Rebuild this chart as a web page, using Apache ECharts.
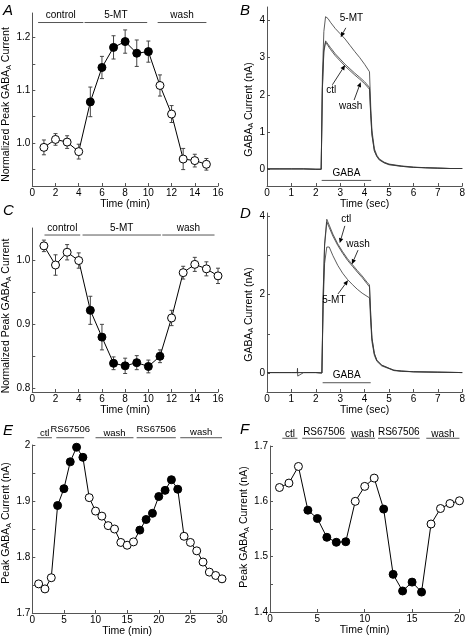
<!DOCTYPE html>
<html><head><meta charset="utf-8">
<script src="https://cdn.jsdelivr.net/npm/echarts@6/dist/echarts.min.js"></script>
<style>html,body{margin:0;padding:0;background:#fff}#c{width:468px;height:642px}</style>
</head><body><div id="c"></div>
<script>
// ---------- Panel A ----------
const aTime = [1,2,3,4,5,6,7,8,9,10,11,12,13,14,15];
const aMean = [0.992,1.007,1.002,0.984,1.078,1.143,1.181,1.192,1.170,1.173,1.109,1.055,0.970,0.967,0.960];
const aErr  = [0.014,0.011,0.012,0.014,0.028,0.021,0.022,0.022,0.025,0.020,0.020,0.016,0.020,0.012,0.011];
const aFilled = [0,0,0,0,1,1,1,1,1,1,0,0,0,0,0];
const aYTicks = [0.95,1.0,1.05,1.1,1.15,1.2];
const aYLabels = [1.0,1.1,1.2];
const aBars = [[0.5,4.4,'control'],[4.5,9.9,'5-MT'],[10.8,15.0,'wash']];
const aBarsY = 1.228;

// ---------- Panel B ----------
const bTime = [0,0.5,1,1.5,2,2.22,2.27,2.33,2.4,2.5,2.6,2.8,3.0,3.2,3.4,3.6,3.8,4.0,4.2,4.25,4.3,4.4,4.5,4.6,4.8,5.0,5.5,6,6.5,7,7.5,8];
const bMT   = [0.01,0.01,0.01,0.01,0.0,0.0,2.5,3.7,4.1,4.05,3.95,3.78,3.64,3.5,3.33,3.16,3.0,2.82,2.62,1.7,1.05,0.55,0.38,0.28,0.19,0.14,0.09,0.06,0.04,0.03,0.02,0.02];
const bCtl  = [0.01,0.01,0.01,0.01,0.0,0.0,2.2,3.2,3.45,3.36,3.27,3.1,2.96,2.82,2.7,2.58,2.47,2.35,2.2,1.5,0.95,0.5,0.35,0.26,0.18,0.13,0.08,0.05,0.04,0.03,0.02,0.02];
const bWash = [0.01,0.01,0.01,0.01,0.0,0.0,2.15,3.15,3.41,3.32,3.22,3.05,2.91,2.77,2.65,2.53,2.42,2.3,2.15,1.45,0.92,0.49,0.34,0.25,0.17,0.12,0.08,0.05,0.04,0.03,0.02,0.02];
const bYTicks = [0,1,2,3,4];
const bGaba = [[2.24,4.27,'GABA']];
const bGabaY = -0.3;
// [labelX, labelY, text, fromX, fromY, toX, toY]
const bNotes = [[3.46,4.07,'5-MT',3.23,3.80,3.02,3.55],[2.63,2.12,'ctl',2.68,2.27,3.2,2.80],[3.43,1.70,'wash',3.57,1.86,3.84,2.34]];

// ---------- Panel C ----------
const cTime = [1,2,3,4,5,6,7,8,9,10,11,12,13,14,15,16];
const cMean = [1.023,0.993,1.013,1.000,0.922,0.880,0.839,0.835,0.840,0.834,0.850,0.910,0.981,0.994,0.987,0.976];
const cErr  = [0.009,0.016,0.012,0.012,0.022,0.020,0.010,0.012,0.011,0.010,0.010,0.012,0.010,0.011,0.011,0.012];
const cFilled = [0,0,0,0,1,1,1,1,1,1,1,0,0,0,0,0];
const cYTicks = [0.8,0.85,0.9,0.95,1.0];
const cYLabels = [0.8,0.9,1.0];
const cBars = [[1.05,4.13,'control'],[4.33,11.08,'5-MT'],[11.2,15.7,'wash']];
const cBarsY = 1.040;

// ---------- Panel D ----------
const dTime = [0,0.5,1,1.24,1.25,1.26,1.5,2,2.25,2.3,2.36,2.45,2.55,2.7,2.9,3.1,3.3,3.5,3.7,3.9,4.1,4.2,4.25,4.3,4.4,4.5,4.7,5.0,5.2,5.5,6,7,8];
const dCtl  = [0.01,0.01,0.01,0.01,0.12,-0.08,0.01,0.01,0.0,2.0,3.3,3.93,3.78,3.55,3.3,3.1,2.92,2.77,2.62,2.48,2.32,2.25,1.5,0.9,0.5,0.33,0.2,0.12,0.07,0.05,0.03,0.02,0.01];
const dWash = [0.01,0.01,0.01,0.01,0.01,0.01,0.01,0.01,0.0,1.9,3.25,3.86,3.72,3.5,3.26,3.06,2.88,2.73,2.58,2.44,2.28,2.2,1.47,0.88,0.49,0.32,0.2,0.12,0.07,0.05,0.03,0.02,0.01];
const dMT   = [0.01,0.01,0.01,0.01,0.01,0.01,0.01,0.01,0.0,1.7,2.8,3.22,3.22,3.0,2.75,2.55,2.39,2.26,2.14,2.04,1.96,1.92,1.3,0.8,0.45,0.3,0.18,0.11,0.06,0.04,0.03,0.02,0.01];
const dYTicks = [0,1,2,3,4];
const dYLabels = [0,2,4];
const dGaba = [[2.28,4.25,'GABA']];
const dGabaY = -0.25;
const dNotes = [[3.25,3.92,'ctl',3.19,3.76,2.98,3.32],[3.73,3.29,'wash',3.73,3.14,3.48,2.78],[2.74,1.86,'5-MT',2.91,2.02,3.32,2.37]];

// ---------- Panel E ----------
const eTime = [1,2,3,4,5,6,7,8,9,10,11,12,13,14,15,16,17,18,19,20,21,22,23,24,25,26,27,28,29,30];
const eMean = [1.752,1.743,1.763,1.892,1.922,1.970,1.996,1.978,1.906,1.882,1.873,1.856,1.850,1.826,1.821,1.827,1.848,1.867,1.878,1.908,1.919,1.938,1.921,1.837,1.826,1.811,1.791,1.773,1.767,1.761];
const eFilled = [0,0,0,1,1,1,1,1,0,0,0,0,0,0,0,0,1,1,1,1,1,1,1,0,0,0,0,0,0,0];
const eYTicks = [1.7,1.75,1.8,1.85,1.9,1.95,2.0];
const eYLabels = [1.7,1.8,1.9,2.0];
const eBars = [[0.8,3.1,'ctl'],[3.8,8.2,'RS67506'],[10.0,16.0,'wash'],[16.5,22.7,'RS67506'],[23.4,30,'wash']];
const eBarsY = 2.013;

// ---------- Panel F ----------
const fTime = [1,2,3,4,5,6,7,8,9,10,11,12,13,14,15,16,17,18,19,20];
const fMean = [1.625,1.633,1.663,1.584,1.569,1.535,1.526,1.527,1.600,1.627,1.642,1.586,1.468,1.438,1.454,1.436,1.559,1.587,1.596,1.601];
const fFilled = [0,0,0,1,1,1,1,1,0,0,0,1,1,1,1,1,0,0,0,0];
const fYTicks = [1.4,1.45,1.5,1.55,1.6,1.65,1.7];
const fYLabels = [1.4,1.5,1.6,1.7];
const fBars = [[1.3,2.9,'ctl'],[3.4,8.0,'RS67506'],[8.5,11.1,'wash'],[11.4,15.8,'RS67506'],[16.5,20,'wash']];
const fBarsY = 1.714;

// ---------- helpers ----------
const FONT = 'Liberation Sans, Arial, sans-serif';
const AX = '#555';
const chart = echarts.init(document.getElementById('c'), null, {renderer:'canvas'});

function xAxis(idx, min, max, interval, name) {
  return {gridIndex: idx, type:'value', min, max, interval, name, nameLocation:'middle', nameGap: 10,
    nameTextStyle:{fontSize:10.5, fontFamily:FONT, color:'#000'},
    axisLine:{onZero:false, lineStyle:{color:AX, width:1}},
    axisTick:{inside:true, length:3, lineStyle:{color:AX}},
    axisLabel:{fontSize:10, fontFamily:FONT, color:'#000', margin:2},
    splitLine:{show:false}};
}
function yAxis(idx, min, max, ticks, labels, fmt, name, gap, shift) {
  const pad = shift >= 0 ? [0, 2*shift, 0, 0] : [0, 0, 0, -2*shift];
  return {gridIndex: idx, type:'value', min, max, name, nameLocation:'middle', nameGap: gap,
    nameTextStyle:{fontSize:10.5, fontFamily:FONT, color:'#000', padding: pad,
      rich:{s:{fontSize:7, fontFamily:FONT, verticalAlign:'bottom', padding:[5,0,0,0]}}},
    axisLine:{onZero:false, lineStyle:{color:AX, width:1}},
    axisTick:{inside:true, length:3, lineStyle:{color:AX}, customValues: ticks},
    axisLabel:{fontSize:10, fontFamily:FONT, color:'#000', margin:2, customValues: labels, formatter: fmt},
    splitLine:{show:false}};
}
function errSeries(idx, time, mean, err) {
  return {type:'custom', xAxisIndex:idx, yAxisIndex:idx, z:2, silent:true,
    data: time.map((t,i)=>[t, mean[i]-err[i], mean[i]+err[i]]),
    encode:{x:0, y:[1,2]},
    renderItem:(p, api)=>{
      const x = api.value(0);
      const a = api.coord([x, api.value(1)]), b = api.coord([x, api.value(2)]);
      const st = {stroke:'#444', lineWidth:1};
      return {type:'group', children:[
        {type:'line', shape:{x1:a[0],y1:a[1],x2:b[0],y2:b[1]}, style:st},
        {type:'line', shape:{x1:a[0]-2,y1:a[1],x2:a[0]+2,y2:a[1]}, style:st},
        {type:'line', shape:{x1:b[0]-2,y1:b[1],x2:b[0]+2,y2:b[1]}, style:st}]};
    }};
}
function pointSeries(idx, time, mean, filled) {
  return {type:'line', xAxisIndex:idx, yAxisIndex:idx, z:3, silent:true,
    symbol:'circle', symbolSize:8, showAllSymbol:true,
    lineStyle:{color:'#000', width:1},
    itemStyle:{borderColor:'#000', borderWidth:1},
    data: time.map((t,i)=>({value:[t, mean[i]], itemStyle:{color: filled[i] ? '#000' : '#fff', borderColor:'#000'}}))};
}
// lift: optional per-label extra raise (px) for staggered labels
function barSeries(idx, bars, yv, gap, fontSize, lift) {
  return {type:'custom', xAxisIndex:idx, yAxisIndex:idx, z:4, silent:true, clip:false,
    data: bars.map((b)=>[b[0], b[1], yv]),
    encode:{x:[0,1], y:2},
    renderItem:(p, api)=>{
      const a = api.coord([api.value(0), api.value(2)]), b = api.coord([api.value(1), api.value(2)]);
      const up = gap + (lift ? lift[p.dataIndex] : 0);
      return {type:'group', children:[
        {type:'line', shape:{x1:a[0],y1:a[1],x2:b[0],y2:b[1]}, style:{stroke:'#555', lineWidth:1}},
        {type:'text', style:{text: bars[p.dataIndex][2], x:(a[0]+b[0])/2, y:a[1]-up, align:'center', verticalAlign:'bottom',
          font:(fontSize||10)+'px '+FONT, fill:'#000'}}]};
    }};
}
function traceSeries(idx, time, vals) {
  return {type:'line', xAxisIndex:idx, yAxisIndex:idx, z:3, silent:true, showSymbol:false, symbol:'none',
    lineStyle:{color:'#333', width:0.8}, data: time.map((t,i)=>[t, vals[i]])};
}
function noteSeries(idx, notes) {
  return {type:'custom', xAxisIndex:idx, yAxisIndex:idx, z:5, silent:true, clip:false,
    data: notes.map(n=>[n[0], n[1], n[3], n[4], n[5], n[6]]),
    encode:{x:0, y:1},
    renderItem:(p, api)=>{
      const l = api.coord([api.value(0), api.value(1)]);
      const f = api.coord([api.value(2), api.value(3)]);
      const t = api.coord([api.value(4), api.value(5)]);
      const ang = Math.atan2(t[1]-f[1], t[0]-f[0]);
      const L = 5, W = 2.2;
      const bx = t[0]-L*Math.cos(ang), by = t[1]-L*Math.sin(ang);
      const px = -Math.sin(ang)*W, py = Math.cos(ang)*W;
      return {type:'group', children:[
        {type:'text', style:{text: notes[p.dataIndex][2], x:l[0], y:l[1], align:'center', verticalAlign:'middle', font:'10px '+FONT, fill:'#000'}},
        {type:'line', shape:{x1:f[0],y1:f[1],x2:bx,y2:by}, style:{stroke:'#000', lineWidth:0.8}},
        {type:'polygon', shape:{points:[[t[0],t[1]],[bx+px,by+py],[bx-px,by-py]]}, style:{fill:'#000'}}]};
    }};
}
const f1 = v => v.toFixed(1);
const fE = v => (Math.abs(v-2) < 1e-9 ? '2' : v.toFixed(1));
const fI = v => String(Math.round(v));

const option = {
  backgroundColor:'#fff', animation:false,
  grid:[
    {left:30, top:13, width:188, height:173},
    {left:267, top:7, width:197, height:179},
    {left:30, top:228, width:188, height:164},
    {left:267, top:213, width:197, height:179},
    {left:31, top:445, width:191, height:168},
    {left:270, top:446, width:191, height:166}
  ],
  xAxis:[
    xAxis(0,0,16,2,'Time (min)'),
    xAxis(1,0,8,1,'Time (sec)'),
    xAxis(2,0,16,2,'Time (min)'),
    xAxis(3,0,8,1,'Time (sec)'),
    xAxis(4,0,30,5,'Time (min)'),
    xAxis(5,0,20,5,'Time (min)')
  ],
  yAxis:[
    yAxis(0,0.919,1.246,aYTicks,aYLabels,f1,'Normalized Peak GABA{s|A} Current',16,5),
    yAxis(1,-0.45,4.36,bYTicks,bYTicks,fI,'GABA{s|A} Current (nA)',12,13),
    yAxis(2,0.794,1.051,cYTicks,cYLabels,f1,'Normalized Peak GABA{s|A} Current',17,6),
    yAxis(3,-0.487,4.09,dYTicks,dYLabels,fI,'GABA{s|A} Current (nA)',12,12),
    yAxis(4,1.7,2.0,eYTicks,eYLabels,fE,'Peak GABA{s|A} Current (nA)',17,-6),
    yAxis(5,1.4,1.7,fYTicks,fYLabels,f1,'Peak GABA{s|A} Current (nA)',17,-2)
  ],
  graphic:[
    {type:'text', left:3, top:3, style:{text:'A', font:'italic 15px '+FONT, fill:'#000'}},
    {type:'text', left:240, top:3, style:{text:'B', font:'italic 15px '+FONT, fill:'#000'}},
    {type:'text', left:3, top:203, style:{text:'C', font:'italic 15px '+FONT, fill:'#000'}},
    {type:'text', left:240, top:206, style:{text:'D', font:'italic 15px '+FONT, fill:'#000'}},
    {type:'text', left:3, top:423, style:{text:'E', font:'italic 15px '+FONT, fill:'#000'}},
    {type:'text', left:240, top:422, style:{text:'F', font:'italic 15px '+FONT, fill:'#000'}}
  ],
  series:[
    errSeries(0,aTime,aMean,aErr), pointSeries(0,aTime,aMean,aFilled), barSeries(0,aBars,aBarsY,2),
    traceSeries(1,bTime,bMT), traceSeries(1,bTime,bCtl), traceSeries(1,bTime,bWash),
    barSeries(1,bGaba,bGabaY,2), noteSeries(1,bNotes),
    errSeries(2,cTime,cMean,cErr), pointSeries(2,cTime,cMean,cFilled), barSeries(2,cBars,cBarsY,2),
    traceSeries(3,dTime,dCtl), traceSeries(3,dTime,dWash), traceSeries(3,dTime,dMT),
    barSeries(3,dGaba,dGabaY,2), noteSeries(3,dNotes),
    pointSeries(4,eTime,eMean,eFilled), barSeries(4,eBars,eBarsY,-1,9.5,[0,4,0,4,1]),
    pointSeries(5,fTime,fMean,fFilled), barSeries(5,fBars,fBarsY,-1,10,[0,2,0,2,0])
  ]
};
chart.setOption(option);
</script>
</body></html>
